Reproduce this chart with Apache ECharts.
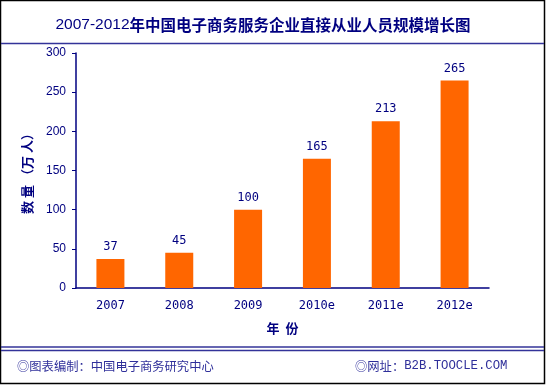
<!DOCTYPE html>
<html><head><meta charset="utf-8">
<script src="https://cdn.jsdelivr.net/npm/echarts@6/dist/echarts.min.js"></script>
<style>html,body{margin:0;padding:0;background:#fff}#c{width:547px;height:387px}</style>
</head><body><div id="c"></div>
<script>
var categories = ['2007','2008','2009','2010e','2011e','2012e'];
var values = [37,45,100,165,213,265];
var yTicks = [0,50,100,150,200,250,300];

var navy = '#000080';
var lineBlue = '#333399';
var chart = echarts.init(document.getElementById('c'), null, {renderer:'canvas'});
chart.setOption({
  backgroundColor:'#fff',
  animation:false,
  title:{
    text:'{a|2007-2012}{b|年中国电子商务服务企业直接从业人员规模增长图}',
    left: 258, textAlign:'center', top:12,
    textStyle:{rich:{
      a:{fontFamily:'Liberation Sans, Arial, sans-serif',fontSize:15.5,color:navy,fontWeight:'normal'},
      b:{fontFamily:'Noto Sans CJK SC',fontSize:15.5,color:navy,fontWeight:'bold'}
    }}
  },
  grid:{left:76,right:58,top:53,bottom:99,containLabel:false},
  xAxis:{
    type:'category', data:categories,
    name:'年  份', nameLocation:'middle', nameGap:34,
    nameTextStyle:{fontFamily:'Noto Sans CJK SC',fontSize:13,fontWeight:'bold',color:navy},
    axisLine:{lineStyle:{color:navy,width:1.5}},
    axisTick:{inside:true,length:4,lineStyle:{color:navy}},
    axisLabel:{margin:12,color:navy,fontSize:12,fontFamily:'DejaVu Sans Mono, monospace'}
  },
  yAxis:{
    type:'value', min:yTicks[0], max:yTicks[yTicks.length-1], interval:50,
    name:'数 量 （万 人）', nameLocation:'middle', nameGap:42, nameRotate:90,
    nameTextStyle:{fontFamily:'Noto Sans CJK SC',fontSize:13,fontWeight:'bold',color:navy},
    axisLine:{show:true,lineStyle:{color:navy,width:1.5}},
    axisTick:{show:true,length:4,lineStyle:{color:navy}},
    splitLine:{show:false},
    axisLabel:{margin:10,color:navy,fontSize:12,fontFamily:'Liberation Sans, Arial, sans-serif'}
  },
  series:[{
    type:'bar', data:values, barWidth:28,
    itemStyle:{color:'#FF6600'},
    label:{show:true,position:'top',distance:6,color:navy,fontSize:12,fontFamily:'DejaVu Sans Mono, monospace'}
  }],
  graphic:[
    {type:'rect',shape:{x:0.5,y:0.5,width:544,height:383},style:{fill:null,stroke:'#000',lineWidth:1.5},silent:true},
    {type:'line',shape:{x1:1,y1:43.5,x2:544,y2:43.5},style:{stroke:lineBlue,lineWidth:1.5}},
    {type:'line',shape:{x1:1,y1:347,x2:544,y2:347},style:{stroke:lineBlue,lineWidth:1.5}},
    {type:'line',shape:{x1:1,y1:350.5,x2:544,y2:350.5},style:{stroke:lineBlue,lineWidth:1.5}},
    {type:'text',left:17,top:360,style:{text:'◎图表编制：中国电子商务研究中心',fill:'#2f2f9a',font:'12.3px "Noto Sans CJK SC"'}},
    {type:'text',left:355,top:360,style:{rich:{c:{fontFamily:'Noto Sans CJK SC',fontSize:12.3,fill:'#2f2f9a'},m:{fontFamily:'Liberation Mono, monospace',fontSize:12.3,fill:'#2f2f9a'}},text:'{c|◎网址：}{m|B2B.TOOCLE.COM}'}}
  ]
});
</script></body></html>
